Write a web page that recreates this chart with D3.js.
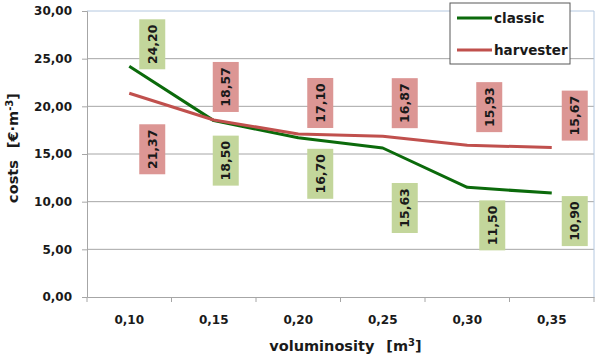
<!DOCTYPE html>
<html>
<head>
<meta charset="utf-8">
<script src="https://cdn.jsdelivr.net/npm/d3@7/dist/d3.min.js"></script>
<style>
  body { margin: 0; background: #fff; }
  text { font-family: "DejaVu Sans", sans-serif; font-weight: bold; fill: #1a1a1a; }
</style>
</head>
<body>
<svg width="600" height="362"></svg>
<script>
// values
const categories = ["0,10", "0,15", "0,20", "0,25", "0,30", "0,35"];
const classic = [24.20, 18.50, 16.70, 15.63, 11.50, 10.90];
const harvester = [21.37, 18.57, 17.10, 16.87, 15.93, 15.67];
const yTicks = [0, 5, 10, 15, 20, 25, 30];

// label box offsets from the point (px), labels were dragged by hand in the original
const classicLabelOff = [[23, -22], [12, 40], [22, 36], [22, 60], [25, 38], [23, 28]];
const harvesterLabelOff = [[23, 56], [12, -33], [22, -31], [22, -33], [22, -38], [23, -32]];

let margin = {top: 11, right: 6, bottom: 65, left: 87},
    width = 600 - margin.left - margin.right,
    height = 362 - margin.top - margin.bottom;

const fmt = v => v.toFixed(2).replace(".", ",");

const svg = d3.select("svg");
const g = svg.append("g").attr("transform", `translate(${margin.left}, ${margin.top})`);

const x = d3.scaleBand().domain(categories).range([0, width]);
const y = d3.scaleLinear().domain([0, 30]).range([height, 0]);

// gridlines
g.selectAll(".grid").data(yTicks.slice(1, -1)).enter().append("line")
  .attr("x1", 0).attr("x2", width)
  .attr("y1", d => y(d)).attr("y2", d => y(d))
  .attr("stroke", "#a6a6a6").attr("stroke-width", 1);

// plot border (top + right)
g.append("path")
  .attr("d", `M0,${y(30)}H${width}V${height}`)
  .attr("fill", "none").attr("stroke", "#b4c8e0").attr("stroke-width", 1);

// Y axis
const yAxis = g.append("g")
  .call(d3.axisLeft(y).tickValues(yTicks).tickFormat(fmt).tickSize(5).tickPadding(10));
yAxis.select(".domain").attr("stroke", "#a6a6a6");
yAxis.selectAll(".tick line").attr("stroke", "#a6a6a6");
yAxis.selectAll("text").attr("font-size", "12px").attr("font-family", "DejaVu Sans").attr("font-weight", "bold").attr("fill", "#1a1a1a");

// X axis, ticks between categories
const xAxis = g.append("g").attr("transform", `translate(0, ${height})`)
  .call(d3.axisBottom(x).tickSize(0).tickPadding(18));
xAxis.select(".domain").attr("stroke", "#a6a6a6");
xAxis.selectAll("text").attr("font-size", "12px").attr("font-family", "DejaVu Sans").attr("font-weight", "bold").attr("fill", "#1a1a1a");
g.selectAll(".xtick").data(categories).enter().append("line")
  .attr("x1", d => x(d) + x.bandwidth()).attr("x2", d => x(d) + x.bandwidth())
  .attr("y1", height).attr("y2", height + 5)
  .attr("stroke", "#a6a6a6");
g.append("line").attr("x1", 0).attr("x2", 0).attr("y1", height).attr("y2", height + 5).attr("stroke", "#a6a6a6");

// axis titles
const xt = g.append("text")
  .attr("x", width / 2 + 5).attr("y", height + 54)
  .attr("text-anchor", "middle").attr("font-size", "14.5px");
xt.append("tspan").text("voluminosity");
xt.append("tspan").attr("dx", 12).text("[m");
xt.append("tspan").attr("dy", -5).attr("font-size", "10px").text("3");
xt.append("tspan").attr("dy", 5).text("]");

const yt = g.append("text")
  .attr("transform", `translate(${-69}, ${height / 2 - 6}) rotate(-90)`)
  .attr("text-anchor", "middle").attr("font-size", "14.5px");
yt.append("tspan").text("costs");
yt.append("tspan").attr("dx", 12).text("[€·m");
yt.append("tspan").attr("dy", -5).attr("font-size", "10px").text("-3");
yt.append("tspan").attr("dy", 5).text("]");

const series = [
  {name: "classic", values: classic, color: "#0b6a0b", box: "#c3d69b", off: classicLabelOff},
  {name: "harvester", values: harvester, color: "#c0504d", box: "#dc9694", off: harvesterLabelOff}
];

const line = d3.line()
  .x((d, i) => x(categories[i]) + x.bandwidth() / 2)
  .y(d => y(d));

series.forEach(s => {
  g.append("path").datum(s.values)
    .attr("d", line)
    .attr("fill", "none")
    .attr("stroke", s.color)
    .attr("stroke-width", 3)
    .attr("stroke-linejoin", "round");
});

// data labels (rotated text in coloured boxes)
series.forEach(s => {
  const lab = g.selectAll(null).data(s.values).enter().append("g")
    .attr("transform", (d, i) => {
      const cx = x(categories[i]) + x.bandwidth() / 2 + s.off[i][0];
      const cy = y(d) + s.off[i][1];
      return `translate(${cx}, ${cy})`;
    });
  lab.append("rect")
    .attr("x", -13).attr("y", -25).attr("width", 26).attr("height", 50)
    .attr("fill", s.box);
  lab.append("text")
    .attr("transform", "rotate(-90)")
    .attr("text-anchor", "middle")
    .attr("dy", "0.36em")
    .attr("font-size", "12.5px")
    .text(d => fmt(d));
});

// legend
const lg = svg.append("g").attr("transform", "translate(450, 3)");
lg.append("rect").attr("width", 120).attr("height", 61)
  .attr("fill", "#fff").attr("stroke", "#595959").attr("stroke-width", 1);
series.forEach((s, i) => {
  const yy = 15 + i * 32;
  lg.append("line").attr("x1", 7).attr("x2", 42).attr("y1", yy).attr("y2", yy)
    .attr("stroke", s.color).attr("stroke-width", 3);
  lg.append("text").attr("x", 44).attr("y", yy).attr("dy", "0.36em")
    .attr("font-size", "13.5px").text(s.name);
});
</script>
</body>
</html>
